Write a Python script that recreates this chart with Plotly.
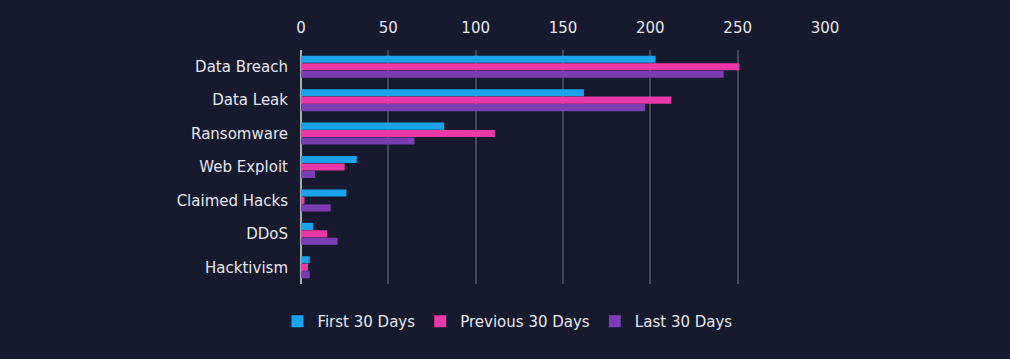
import plotly.graph_objects as go

categories = ["Data Breach", "Data Leak", "Ransomware", "Web Exploit", "Claimed Hacks", "DDoS", "Hacktivism"]
first_30 = [203, 162, 82, 32, 26, 7, 5]
previous_30 = [251, 212, 111, 25, 2, 15, 4]
last_30 = [242, 197, 65, 8, 17, 21, 5]
tick_vals = [0, 50, 100, 150, 200, 250, 300]

series = [
    ("First 30 Days", first_30, "#1aa3ea"),
    ("Previous 30 Days", previous_30, "#ea38a6"),
    ("Last 30 Days", last_30, "#7b3db4"),
]

fig = go.Figure()
for name, vals, col in series:
    fig.add_trace(go.Bar(
        y=categories, x=vals, name=name, orientation="h",
        marker=dict(color=col, line=dict(width=0)),
    ))

font_family = "DejaVu Sans, sans-serif"
fig.update_layout(
    width=1010, height=359,
    paper_bgcolor="#171a2f", plot_bgcolor="#171a2f",
    barmode="group", bargap=0.33, bargroupgap=0.05,
    margin=dict(l=301, r=185, t=50, b=75),
    font=dict(family=font_family, color="#e6e6ee", size=15),
    xaxis=dict(
        side="top", range=[0, 300], tickvals=tick_vals,
        showgrid=True, gridcolor="#44475a", gridwidth=2,
        zeroline=True, zerolinecolor="#a9abb5", zerolinewidth=2,
        tickfont=dict(size=15, color="#e6e6ee"),
        ticks="", ticklabelstandoff=13, fixedrange=True,
    ),
    yaxis=dict(
        autorange="reversed", showgrid=False,
        tickfont=dict(size=15, color="#e6e6ee"),
        ticks="", ticklabelstandoff=12,
    ),
    legend=dict(
        orientation="h", x=-0.045, xanchor="left", y=-0.09, yanchor="top",
        font=dict(size=15, color="#e6e6ee"),
        bgcolor="rgba(0,0,0,0)", itemwidth=30,
    ),
    showlegend=True,
)

fig.write_html(
    "out.html",
    config={"displayModeBar": False},
    post_script="document.body.style.margin='0';document.body.style.background='#171a2f';",
)
